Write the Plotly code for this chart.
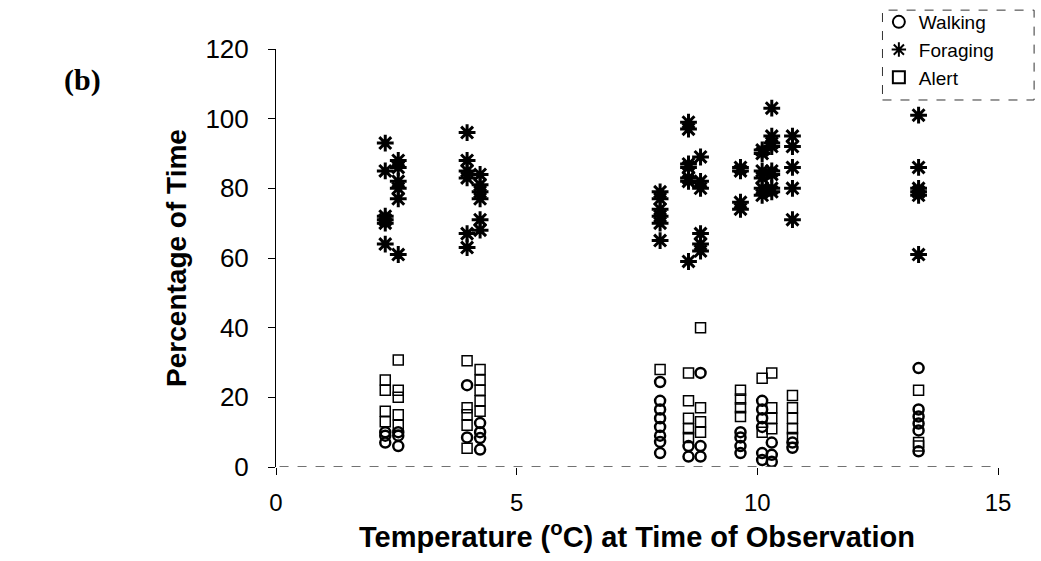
import plotly.graph_objects as go

# Temperature columns (deg C) and values (% of time)
forage_x = ([2.27]*6 + [2.54]*6 + [3.97]*6 + [4.24]*6 + [7.98]*6 + [8.57]*7 +
            [8.82]*6 + [9.65]*4 + [10.1]*6 + [10.3]*8 + [10.73]*5 + [13.35]*6)
forage_y = [93, 85, 72, 71, 70, 64,
            88, 86, 82, 80, 77, 61,
            96, 88, 85, 83, 67, 63,
            84, 81, 79, 77, 71, 68,
            79, 77, 74, 72, 70, 65,
            99, 97, 87, 86, 83, 82, 59,
            89, 82, 80, 67, 64, 62,
            86, 85, 76, 74,
            91, 90, 85, 83, 80, 78,
            103, 95, 93, 92, 85, 84, 80, 79,
            95, 92, 86, 80, 71,
            101, 86, 80, 79, 78, 61]

walk_x = ([2.27]*3 + [2.54]*3 + [3.97]*2 + [4.24]*4 + [7.98]*8 + [8.57]*2 +
          [8.82]*3 + [9.65]*4 + [10.1]*6 + [10.3]*3 + [10.73]*2 + [13.35]*6)
walk_y = [10, 9, 7,
          10, 9, 6,
          23.5, 8.5,
          12.6, 10, 8.3, 5,
          24.4, 19, 16.5, 14, 11.5, 9, 7.2, 4,
          6, 3,
          27, 6, 3,
          10, 8.5, 6, 4,
          19, 16.5, 14, 11.5, 4, 2,
          7, 3.5, 1.5,
          7, 5.5,
          28.4, 16.5, 14.5, 12.5, 10.5, 4.5]

alert_x = ([2.27]*4 + [2.54]*5 + [3.97]*5 + [4.24]*5 + [7.98]*1 + [8.57]*5 +
           [8.82]*4 + [9.65]*4 + [10.1]*2 + [10.3]*4 + [10.73]*5 + [13.35]*3)
alert_y = [25, 22, 16, 13,
           30.7, 22, 20, 15, 12,
           30.5, 17, 15, 12, 5.4,
           28, 25, 22, 19, 16,
           28,
           27, 19, 14, 11, 8.5,
           40, 17, 13, 10,
           22, 19.5, 17, 14.5,
           25.5, 10,
           27, 17, 14, 11,
           20.5, 17, 14, 11, 8.5,
           22, 7, 6]

x_ticks = [0, 5, 10, 15]
y_ticks = [0, 20, 40, 60, 80, 100, 120]

FONT = "Liberation Sans, Arial, sans-serif"

fig = go.Figure()
fig.add_trace(go.Scatter(x=walk_x, y=walk_y, mode="markers", name="Walking",
                         marker=dict(symbol="circle-open", size=10, color="black",
                                     line=dict(width=2.5, color="black"))))
fig.add_trace(go.Scatter(x=forage_x, y=forage_y, mode="markers", name="Foraging",
                         marker=dict(symbol="asterisk-open", size=14, color="black",
                                     line=dict(width=3, color="black"))))
fig.add_trace(go.Scatter(x=alert_x, y=alert_y, mode="markers", name="Alert",
                         marker=dict(symbol="square-open", size=10, color="black",
                                     line=dict(width=1.5, color="black"))))

# dashed baseline like the scanned x axis
fig.add_shape(type="line", xref="x", yref="y", x0=-0.3, x1=15, y0=0, y1=0,
              line=dict(color="#444", width=1.5, dash="dash"))
# dashed legend box
fig.add_shape(type="rect", xref="paper", yref="paper", x0=0.84, x1=1.05,
              y0=0.878, y1=1.093, line=dict(color="#333", width=1, dash="dash"))

fig.add_annotation(text="<b>(b)</b>", xref="paper", yref="paper",
                   x=-0.297, y=0.926, xanchor="left", yanchor="middle",
                   showarrow=False,
                   font=dict(family="Liberation Serif, Times New Roman, serif",
                             size=30, color="black"))

# x axis title placed as an annotation for exact placement
fig.add_annotation(text="<b>Temperature (<sup>o</sup>C) at Time of Observation</b>",
                   xref="paper", yref="paper", x=0.5, y=-0.162,
                   xanchor="center", yanchor="middle", showarrow=False,
                   font=dict(family=FONT, size=29, color="black"))

fig.update_layout(
    width=1041, height=561,
    margin=dict(l=276, r=43, t=49, b=94, autoexpand=False),
    paper_bgcolor="white", plot_bgcolor="white",
    font=dict(family=FONT, color="black"),
    showlegend=True,
    legend=dict(x=0.835, y=1.11, xanchor="left", yanchor="top",
                font=dict(size=19, family=FONT), bgcolor="rgba(0,0,0,0)",
                itemwidth=30, itemsizing="constant", tracegroupgap=0),
    xaxis=dict(range=[0, 15], tickvals=x_ticks, ticks="outside", ticklen=7,
               tickcolor="black", showgrid=False, zeroline=False,
               showline=False, ticklabelstandoff=7,
               tickfont=dict(size=24, family=FONT)),
    yaxis=dict(range=[0, 120], tickvals=y_ticks, ticks="outside", ticklen=7,
               tickcolor="black", showgrid=False, zeroline=False,
               showline=True, linecolor="black", linewidth=1,
               ticklabelstandoff=14,
               tickfont=dict(size=26, family=FONT),
               title=dict(text="<b>Percentage of Time</b>",
                          font=dict(size=28, family=FONT), standoff=10)),
)

fig.write_html("out.html")
